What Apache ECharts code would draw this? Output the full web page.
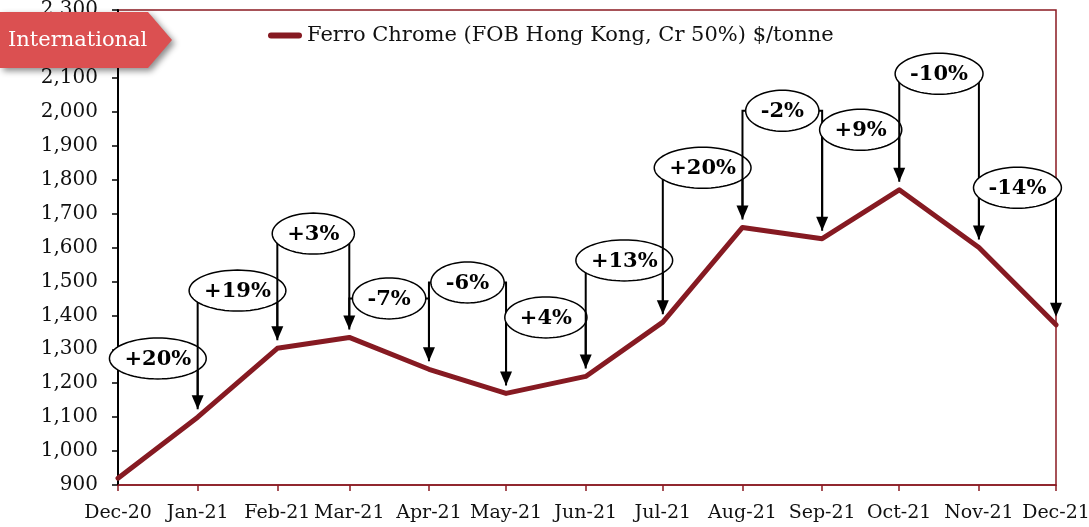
<!DOCTYPE html>
<html>
<head>
<meta charset="utf-8">
<script src="https://cdn.jsdelivr.net/npm/echarts@6/dist/echarts.min.js"></script>
<style>
html,body{margin:0;padding:0;background:#fff;}
#chart{width:1089px;height:527px;}
</style>
</head>
<body>
<div id="chart"></div>
<script>
// ---- data ----
const months = ['2020-12','2021-01','2021-02','2021-03','2021-04','2021-05','2021-06','2021-07','2021-08','2021-09','2021-10','2021-11','2021-12'];
const monthLabels = ['Dec-20','Jan-21','Feb-21','Mar-21','Apr-21','May-21','Jun-21','Jul-21','Aug-21','Sep-21','Oct-21','Nov-21','Dec-21'];
const prices = [920, 1100, 1303, 1335, 1241, 1170, 1220, 1380, 1659, 1626, 1770, 1600, 1372];
const changeLabels = ['+20%','+19%','+3%','-7%','-6%','+4%','+13%','+20%','-2%','+9%','-10%','-14%'];
const calloutLevels = [1273, 1473, 1641, 1450, 1497, 1394, 1562, 1835, 2003, 1947, 2112, 1776];
const seriesName = 'Ferro Chrome (FOB Hong Kong, Cr 50%) $/tonne';
const tagText = 'International';

// ---- helpers ----
// x position = day offset from the first month (the source axis is a date axis)
const DAY = 86400000;
const monthDays = months.map(s => { const p = s.split('-'); return Math.round(Date.UTC(+p[0], +p[1] - 1, 1) / DAY); });
const monthX = monthDays.map(d => d - monthDays[0]);
const lineData = monthX.map((t, i) => [t, prices[i]]);
const calloutData = calloutLevels.map((v, i) => [monthX[i], v]);

const SERIF = '"DejaVu Serif", serif';
const calloutFont = 'bold 21px ' + SERIF;
const measureCtx = document.createElement('canvas').getContext('2d');
function textWidth(t, font) { measureCtx.font = font; return measureCtx.measureText(t).width; }

const chart = echarts.init(document.getElementById('chart'), null, {renderer: 'canvas'});

function renderCallout(params, api) {
  const i = params.dataIndex;
  const p0 = api.coord([monthX[i], prices[i]]);
  const p1 = api.coord([monthX[i + 1], prices[i + 1]]);
  const ly = api.coord([monthX[i], calloutLevels[i]])[1];
  const gap = 8, ah = 14, aw = 6;
  const x0 = p0[0], x1 = p1[0];
  const cx = (x0 + x1) / 2;
  const rx = textWidth(changeLabels[i], calloutFont) / 2 + 15;
  const ry = 20.5;
  const pts = [];
  for (let k = 0; k < 72; k++) {
    const a = k / 72 * Math.PI * 2;
    pts.push([cx + rx * Math.cos(a), ly + ry * Math.sin(a)]);
  }
  return {
    type: 'group',
    children: [
      {type: 'polyline', shape: {points: [[x0, p0[1] - gap], [x0, ly], [x1, ly], [x1, p1[1] - gap - ah + 1]]},
       style: {stroke: '#000', lineWidth: 2, fill: null}},
      {type: 'polygon', shape: {points: [[x1 - aw, p1[1] - gap - ah], [x1 + aw, p1[1] - gap - ah], [x1, p1[1] - gap]]},
       style: {fill: '#000'}},
      {type: 'polygon', shape: {points: pts}, style: {fill: '#fff', stroke: '#000', lineWidth: 1.5}},
      {type: 'text', style: {text: changeLabels[i], x: cx, y: ly + 1, align: 'center', verticalAlign: 'middle', font: calloutFont, fill: '#000'}}
    ]
  };
}

const option = {
  animation: false,
  backgroundColor: '#fff',
  grid: {left: 118, right: 33, top: 10, bottom: 42, outerBoundsMode: 'none', containLabel: false,
    show: true, borderColor: '#8B1A22', borderWidth: 1.5, backgroundColor: 'transparent'},
  legend: {
    show: true, left: 263, top: 20, itemWidth: 34, itemHeight: 14, itemGap: 11,
    data: [{name: seriesName, icon: 'path://M3,0 L31,0 A3,3 0 0 1 31,6 L3,6 A3,3 0 0 1 3,0 Z'}],
    textStyle: {fontFamily: SERIF, fontSize: 21, color: '#111'}
  },
  xAxis: {
    type: 'value',
    min: monthX[0], max: monthX[monthX.length - 1],
    axisLine: {show: true, onZero: false, lineStyle: {color: '#8B1A22', width: 1.5}},
    axisTick: {show: true, customValues: monthX, length: 6, lineStyle: {color: '#8B1A22', width: 1.5}},
    axisLabel: {
      customValues: monthX, margin: 19, color: '#111', fontFamily: SERIF, fontSize: 19,
      hideOverlap: false,
      formatter: function (v) { const idx = monthX.indexOf(v); return idx >= 0 ? monthLabels[idx] : ''; }
    },
    splitLine: {show: false}
  },
  yAxis: {
    type: 'value', min: 900, max: 2300, interval: 100,
    axisLine: {show: true, lineStyle: {color: '#000', width: 2}},
    axisTick: {show: true, length: 6, lineStyle: {color: '#000', width: 1.5}},
    axisLabel: {margin: 20, color: '#111', fontFamily: SERIF, fontSize: 20,
      formatter: v => v.toLocaleString('en-US')},
    splitLine: {show: false}
  },
  series: [
    {
      name: seriesName, type: 'line', data: lineData, symbol: 'none', z: 3,
      lineStyle: {color: '#861A22', width: 5, cap: 'round', join: 'round'},
      itemStyle: {color: '#861A22'}
    },
    {
      name: 'callouts', type: 'custom', data: calloutData, renderItem: renderCallout, z: 4, clip: false, silent: true
    }
  ],
  graphic: [
    {type: 'polygon', zlevel: 1, z: 100, shape: {points: [[0, 12], [148, 12], [172, 40], [148, 68], [0, 68]]},
     style: {fill: '#DB5051', shadowBlur: 6, shadowColor: 'rgba(0,0,0,0.45)', shadowOffsetX: 3, shadowOffsetY: 3}},
    {type: 'text', zlevel: 1, z: 101, x: 8, y: 41, style: {text: tagText, font: '21px ' + SERIF, fill: '#fff', verticalAlign: 'middle', align: 'left'}}
  ]
};
chart.setOption(option);
</script>
</body>
</html>
